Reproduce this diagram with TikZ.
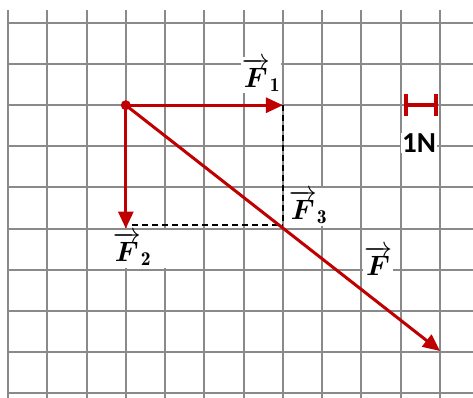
\RequirePackage{fix-cm}
\documentclass[tikz,border=0pt]{standalone}
\usepackage{amsmath,bm}
\usepackage{fontspec}
\newfontfamily\carlito{Carlito}
\usetikzlibrary{arrows.meta}
\definecolor{vred}{HTML}{C00000}
\definecolor{gridgray}{HTML}{8A8A8A}
\tikzset{
  gridline/.style={draw=gridgray, line width=2pt},
  vecarrow/.style={draw=vred, line width=3pt, -{Triangle[length=17pt,width=15pt]}},
  helper/.style={draw=black, line width=2pt, dash pattern=on 6pt off 4pt},
  lbl/.style={fill=white, inner sep=1pt, font=\fontsize{28}{32}\selectfont},
  unitlbl/.style={fill=white, inner sep=1pt, font=\carlito\bfseries\fontsize{29}{32}\selectfont},
}
\begin{document}
\begin{tikzpicture}[x=1pt,y=-1pt]
\useasboundingbox (0,0) rectangle (473,398);
\fill[white] (0,0) rectangle (473,398);
% grid
\foreach \i in {0,...,11} \draw[gridline] ({8+\i*39.27},10) -- ({8+\i*39.27},398);
\foreach \j in {0,...,9} \draw[gridline] (8,{23+\j*41.11}) -- (473,{23+\j*41.11});
% points
\node[circle, fill=vred, inner sep=0pt, minimum size=10pt] (O) at ({8+3*39.27},{23+2*41.11}) {};
\coordinate (A) at ({8+7*39.27},{23+2*41.11});
\coordinate (B) at ({8+3*39.27},{23+5*41.11});
\coordinate (C) at ({8+7*39.27},{23+5*41.11-4});
\coordinate (B2) at ({8+3*39.27+6},{23+5*41.11-4});
\coordinate (D) at (440,351);
% labels
\node[lbl] (l1) at (261,75) {$\overrightarrow{\boldsymbol F}_{\mathbf 1}$};
\node[lbl, minimum width=76pt, minimum height=38pt] (l2) at (132,249) {$\overrightarrow{\boldsymbol F}_{\mathbf 2}$};
\node[lbl, minimum height=38pt] (l3) at (308,207) {$\overrightarrow{\boldsymbol F}_{\mathbf 3}$};
\node[lbl, minimum height=34pt] (l4) at (378,261) {$\overrightarrow{\boldsymbol F}$};
% dashed helpers
\draw[helper] (B2) -- (C);
\draw[helper] (A) -- (C);
% vectors
\draw[vecarrow] (O.center) -- (A);
\draw[vecarrow] (O.center) -- (B);
\draw[vecarrow] (O.center) -- (D);
% unit scale
\coordinate (s1) at (404,105);
\coordinate (s2) at (438,105);
\draw[vred, line width=4pt, {Bar[width=22pt,line width=4pt]}-{Bar[width=22pt,line width=4pt]}] (s1) -- (s2);
\node[unitlbl] (u) at (419,143) {1N};
\end{tikzpicture}
\end{document}
